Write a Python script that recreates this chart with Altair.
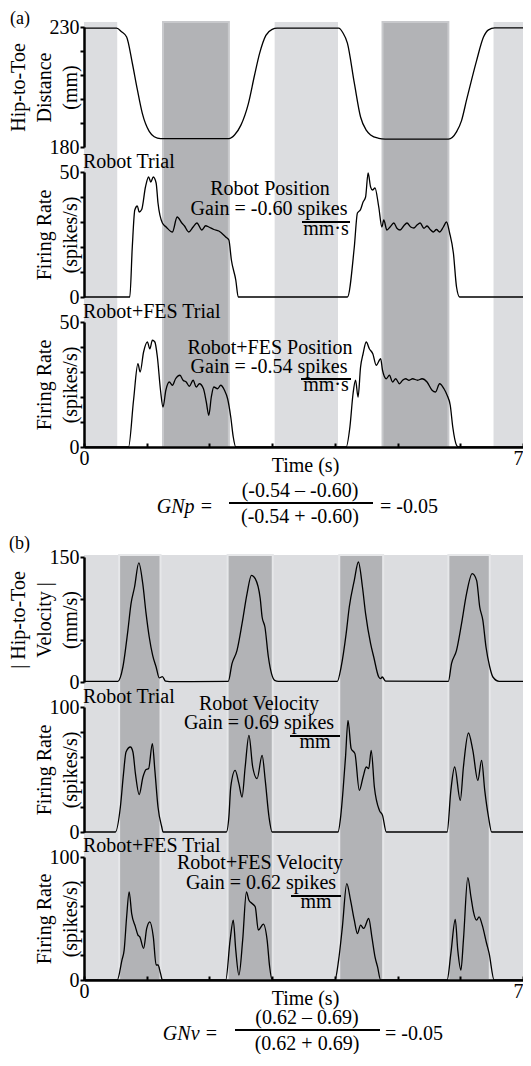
import altair as alt
import pandas as pd

FONT = "Liberation Serif"
TOTAL_W = 515
TOTAL_H = 1046
X_MAX = 7.0
X_PIX = 439          # pixel length of the time axis
LIGHT = "#dcdde0"
DARK = "#b2b3b6"
EDGE_A = "#c8c9cc"
EDGE_B = "#e6e7e9"

# ---------------- data ----------------
# grey bands (time in s)
A_LIGHT_S = [0.0, 3.04, 6.53]
A_LIGHT_E = [0.53, 4.05, 7.0]
A_DARK_S = [1.26, 4.76]
A_DARK_E = [2.31, 5.81]
B_LIGHT_S = [0.0]
B_LIGHT_E = [7.0]
B_DARK_S = [0.56, 2.29, 4.07, 5.81]
B_DARK_E = [1.22, 3.01, 4.77, 6.47]

# (a) hip-to-toe distance (mm)
DIST_T = [0, 0.52, 0.6, 0.68, 0.77, 0.85, 0.93, 1.04, 1.12, 1.22, 2.31, 2.4, 2.5, 2.62,
          2.72, 2.8, 2.9, 3.0, 3.08, 4.06, 4.13, 4.2, 4.31, 4.41, 4.5, 4.57, 4.7, 4.8,
          5.81, 5.94, 6.02, 6.1, 6.18, 6.26, 6.37, 6.45, 6.55, 7.0]
DIST_V = [229.5, 229.5, 228, 225.8, 215, 204, 194, 186.5, 184.3, 183.5, 183.5, 185, 189, 198,
          210, 219, 226.5, 229, 229.5, 229.5, 227.5, 223.3, 206.7, 192.5, 187, 185, 183.6, 183.3,
          183.3, 186.3, 191, 199.6, 208, 216, 225.8, 228.8, 229.6, 229.6]

# (a) robot trial firing rate (spikes/s)
RP_T = [0, 0.73, 0.77, 0.81, 0.85, 0.88, 0.92, 0.98, 1.03, 1.065, 1.105, 1.15, 1.18, 1.25,
        1.31, 1.41, 1.485, 1.56, 1.6, 1.67, 1.74, 1.8, 1.88, 1.94, 1.99, 2.07, 2.15, 2.26,
        2.31, 2.35, 2.42, 2.46, 4.2, 4.31, 4.36, 4.41, 4.45, 4.49, 4.53, 4.57, 4.6, 4.64,
        4.7, 4.75, 4.78, 4.83, 4.88, 4.94, 4.99, 5.04, 5.1, 5.15, 5.21, 5.26, 5.31, 5.36,
        5.42, 5.47, 5.52, 5.57, 5.62, 5.67, 5.73, 5.78, 5.83, 5.89, 5.94, 5.99, 7.0]
RP_V = [0, 0, 20, 34.8, 36.4, 34, 35, 44, 48, 46, 48, 45.6, 37.6, 29.6,
        28, 26, 32, 29.6, 28.5, 26, 28, 29.6, 26.8, 28.5, 28, 27, 26.4, 24,
        22.8, 14.8, 6.8, 0, 0, 20, 33.6, 35, 38, 40, 49.6, 44, 42.8, 43.6,
        36, 28, 30.8, 26.8, 28, 29.6, 27.5, 26.8, 28.5, 29.6, 28, 27.6, 28.8, 29.6,
        27.5, 28.4, 27, 26, 27, 26, 28, 30, 25.6, 17.6, 4, 0, 0]

# (a) robot+FES trial firing rate (spikes/s)
FP_T = [0, 0.71, 0.79, 0.86, 0.895, 0.95, 1.01, 1.05, 1.09, 1.13, 1.17, 1.22, 1.26, 1.305,
        1.36, 1.41, 1.46, 1.53, 1.58, 1.63, 1.68, 1.74, 1.79, 1.84, 1.905, 1.95, 1.99, 2.03,
        2.07, 2.13, 2.18, 2.24, 2.29, 2.34, 2.38, 2.42, 4.18, 4.24, 4.29, 4.33, 4.37, 4.41,
        4.45, 4.5, 4.55, 4.605, 4.66, 4.73, 4.76, 4.82, 4.87, 4.92, 4.97, 5.03, 5.08, 5.13,
        5.18, 5.24, 5.32, 5.39, 5.47, 5.55, 5.605, 5.67, 5.74, 5.79, 5.84, 5.88, 5.94, 5.97, 7.0]
FP_V = [0, 0, 18.7, 33.3, 30, 38, 42, 39.3, 42.7, 42, 36, 22.7, 16, 22.7,
        26, 24.7, 27.3, 28.7, 26.7, 26, 24.3, 26.7, 24, 25.3, 23.3, 18, 12.7, 20,
        24, 23.3, 24.7, 22.7, 19.3, 12, 4, 0, 0, 8, 21.3, 26.7, 20, 32,
        37.3, 42, 39.3, 37.3, 32.7, 35.3, 30.7, 27.3, 28.7, 26, 27.3, 25.3, 26.7, 27.3,
        26.7, 27.3, 26.7, 27.3, 26, 22.7, 22, 25.3, 23.3, 20.7, 16.7, 8, 0.7, 0, 0]

# (b) |hip-to-toe velocity| (mm/s)
VEL_T = [0, 0.54, 0.62, 0.70, 0.75, 0.806, 0.874, 0.937, 0.99, 1.04, 1.095, 1.15, 1.2, 1.25,
         1.3, 1.36, 2.3, 2.36, 2.44, 2.52, 2.6, 2.67, 2.73, 2.81, 2.84, 2.885, 2.94, 2.99,
         3.04, 3.1, 4.04, 4.1, 4.18, 4.23, 4.31, 4.375, 4.44, 4.49, 4.57, 4.62, 4.7, 4.73,
         4.755, 4.81, 5.81, 5.86, 5.94, 6.02, 6.1, 6.19, 6.26, 6.31, 6.36, 6.41, 6.47, 6.52,
         6.62, 7.0]
VEL_V = [0.8, 0.8, 18, 62, 94, 114, 143, 118, 82, 54, 32, 18, 5, 6.5,
         1, 0.5, 0.8, 22, 38, 70, 106, 128, 124, 100, 78, 66, 30, 10,
         2, 0.8, 0.8, 18, 58, 90, 122, 144, 114, 82, 46, 30, 6, 4,
         6, 1, 0.8, 22, 38, 70, 106, 130, 122, 90, 74, 42, 18, 6,
         0.8, 0.8]

# (b) robot trial firing rate (spikes/s)
RV_T = [0, 0.5, 0.58, 0.63, 0.67, 0.74, 0.78, 0.82, 0.88, 0.94, 0.99, 1.03, 1.09, 1.13,
        1.18, 1.24, 1.26, 2.27, 2.31, 2.34, 2.41, 2.47, 2.52, 2.57, 2.63, 2.69, 2.76, 2.84,
        2.89, 2.95, 3.0, 4.05, 4.095, 4.13, 4.17, 4.21, 4.26, 4.32, 4.39, 4.45, 4.5, 4.54,
        4.58, 4.63, 4.71, 4.76, 4.82, 5.79, 5.85, 5.91, 6.0, 6.05, 6.13, 6.2, 6.28, 6.34,
        6.39, 6.45, 6.5, 7.0]
RV_V = [0, 0, 20, 46.7, 64, 68, 64, 46.7, 30, 44, 50, 50.7, 70.7, 49.3,
        20, 4, 0, 0, 12, 36, 49.3, 38.7, 28, 52, 77.3, 52, 42.7, 61.3,
        41.3, 12, 0, 0, 13.3, 33, 60, 89.3, 66.7, 62.7, 33.3, 44, 52, 50.7,
        65.3, 36, 17.3, 13.3, 0, 0, 33.3, 52, 25.3, 52, 79.2, 65.3, 41.3, 57.3,
        33.3, 12, 0, 0]

# (b) robot+FES trial firing rate (spikes/s)
FV_T = [0, 0.53, 0.605, 0.64, 0.68, 0.72, 0.76, 0.82, 0.86, 0.89, 0.95, 1.0, 1.05, 1.105,
        1.15, 1.18, 1.22, 1.25, 2.26, 2.33, 2.38, 2.42, 2.47, 2.53, 2.59, 2.63, 2.68, 2.73,
        2.78, 2.86, 2.92, 2.96, 3.0, 4.0, 4.06, 4.12, 4.19, 4.25, 4.31, 4.36, 4.41, 4.46,
        4.54, 4.59, 4.64, 4.68, 4.73, 5.79, 5.85, 5.92, 5.96, 6.01, 6.05, 6.12, 6.17, 6.21,
        6.26, 6.3, 6.35, 6.42, 6.46, 6.54, 7.0]
FV_V = [0, 0, 16.2, 24.3, 51.4, 71.6, 54, 43.2, 36.5, 35.1, 25.7, 41.9, 47.3, 35.1,
        12.2, 12.2, 5.4, 0, 0, 32.4, 48.6, 24.3, 4, 32.4, 71.6, 64.9, 62.2, 59.5,
        40.5, 45.4, 32.4, 10.8, 0, 0, 16.2, 43.2, 78.4, 64.9, 48.6, 37.8, 44.6, 41.9,
        50, 35.1, 18.9, 10.8, 0, 0, 21.6, 49.2, 24.3, 8.1, 32.4, 83.2, 67.6, 55.4,
        48.6, 51.4, 44.6, 29.7, 21.6, 0, 0]

X_TICKS = [0, 1, 2, 3, 4, 5, 6, 7]
X_LABELS = [0, 7]

for a, b in [(DIST_T, DIST_V), (RP_T, RP_V), (FP_T, FP_V), (VEL_T, VEL_V), (RV_T, RV_V), (FV_T, FV_V)]:
    assert len(a) == len(b), (len(a), len(b))

# ---------------- layout (pixels from the plot origin) ----------------
P_A1 = (19, 139)
P_A2 = (164, 289)
P_A3 = (314, 439)
P_B1 = (549, 674)
P_B2 = (699, 824)
P_B3 = (849, 972)

ONE = [{"k": 1}]


def label_expr(vals):
    cond = " || ".join(f"datum.value == {v}" for v in vals)
    return f"({cond}) ? datum.label : ''"


def xscale():
    return alt.Scale(domain=[0, X_MAX], range=[0, X_PIX], nice=False, zero=False)


def time_axis(strip):
    # axis line drawn at the bottom edge of the strip
    return alt.Axis(orient="top", offset=-strip[1],
                    values=X_TICKS, labelExpr=label_expr(X_LABELS), title="Time (s)",
                    titleX=221, titleY=24, titleAlign="center", titleBaseline="alphabetic",
                    titleFont=FONT, titleFontSize=20, titleFontWeight="normal", titleColor="black",
                    labelFont=FONT, labelFontSize=20, labelColor="black", labelBaseline="alphabetic",
                    labelAlign={"condition": {"test": "datum.value == 7", "value": "right"}, "value": "center"},
                    labelPadding=-21, labelFlush=False, labelOverlap=False,
                    tickSize=4, tickWidth=2, tickColor="black",
                    domainColor="black", domainWidth=2.5, grid=False, zindex=2)


def bands(starts, ends, color, top, bottom, stroke=None):
    df = pd.DataFrame({"s": starts, "e": ends})
    kw = dict(fill=color)
    if stroke:
        kw.update(stroke=stroke, strokeWidth=2)
    return alt.Chart(df).mark_rect(**kw).encode(
        x=alt.X("s:Q", scale=xscale(), axis=None), x2="e:Q",
        y=alt.value(top), y2=alt.value(bottom))


def text(txt, x, y, align="center", size=20, style="normal"):
    return alt.Chart(alt.Data(values=ONE)).mark_text(
        text=txt, font=FONT, fontSize=size, align=align, baseline="alphabetic",
        color="black", fontStyle=style).encode(x=alt.value(x), y=alt.value(y))


def bar(x1, x2, y, width=2):
    return alt.Chart(alt.Data(values=ONE)).mark_rule(color="black", strokeWidth=width).encode(
        x=alt.value(x1), x2=alt.value(x2), y=alt.value(y))


def trace(T, V, lo, hi, strip, yticks, ylabels, title, title_x, with_x_axis):
    top, bot = strip
    yaxis = alt.Axis(orient="left", values=yticks, labelExpr=label_expr(ylabels),
                     title=title, titleX=title_x, titleY=(top + bot) / 2, titleAngle=270,
                     titleAlign="center", titleBaseline="alphabetic", titleLineHeight=26,
                     titleFont=FONT, titleFontSize=20, titleFontWeight="normal", titleColor="black",
                     labelFont=FONT, labelFontSize=20, labelColor="black", labelPadding=1,
                     labelFlush=False, labelOverlap=False,
                     tickSize=4, tickWidth=2, tickColor="black",
                     domainColor="black", domainWidth=2.5, grid=False, zindex=2)
    xaxis = time_axis(strip) if with_x_axis else None
    df = pd.DataFrame({"t": T, "v": V})
    return alt.Chart(df).mark_line(color="black", strokeWidth=1.3, interpolate="monotone").encode(
        x=alt.X("t:Q", scale=xscale(), axis=xaxis),
        y=alt.Y("v:Q", scale=alt.Scale(domain=[lo, hi], range=[bot, top], nice=False, zero=False),
                axis=yaxis))


layers = [
    bands(A_LIGHT_S, A_LIGHT_E, LIGHT, 14, P_A3[1]),
    bands(A_DARK_S, A_DARK_E, DARK, 14, P_A3[1], stroke=EDGE_A),
    bands(B_LIGHT_S, B_LIGHT_E, LIGHT, 547, P_B3[1]),
    bands(B_DARK_S, B_DARK_E, DARK, 547, P_B3[1], stroke=EDGE_B),

    trace(DIST_T, DIST_V, 180, 230, P_A1, [180, 190, 200, 210, 220, 230], [180, 230],
          ["Hip-to-Toe", "Distance", "(mm)"], -60, False),
    trace(RP_T, RP_V, 0, 50, P_A2, [0, 10, 20, 30, 40, 50], [0, 50],
          ["Firing Rate", "(spikes/s)"], -34, False),
    trace(FP_T, FP_V, 0, 50, P_A3, [0, 10, 20, 30, 40, 50], [0, 50],
          ["Firing Rate", "(spikes/s)"], -34, True),
    trace(VEL_T, VEL_V, 0, 150, P_B1, [0, 50, 100, 150], [0, 150],
          ["| Hip-to-Toe", "Velocity |", "(mm/s)"], -60, False),
    trace(RV_T, RV_V, 0, 100, P_B2, [0, 20, 40, 60, 80, 100], [0, 100],
          ["Firing Rate", "(spikes/s)"], -34, False),
    trace(FV_T, FV_V, 0, 100, P_B3, [0, 20, 40, 60, 80, 100], [0, 100],
          ["Firing Rate", "(spikes/s)"], -34, True),
]

layers += [
    text("(a)", -74, 16, align="left", size=18),
    # (a) robot trial
    text("Robot Trial", -1, 160, align="left"),
    text("Robot Position", 186, 187),
    text("Gain = -0.60 spikes", 185, 207),
    bar(218, 266, 214),
    text("mm·s", 242, 227),
    # (a) robot+FES trial
    text("Robot+FES Trial", -1, 310, align="left"),
    text("Robot+FES Position", 186, 346),
    text("Gain = -0.54 spikes", 185, 365),
    bar(217, 267, 371),
    text("mm·s", 242, 383),
    # GNp formula
    text("GNp =", 129, 505, align="right", style="italic"),
    text("(-0.54 – -0.60)", 216, 489),
    bar(145, 289, 495),
    text("(-0.54 + -0.60)", 216, 515),
    text("= -0.05", 296, 505, align="left"),

    text("(b)", -75, 541, align="left", size=18),
    # (b) robot trial
    text("Robot Trial", -1, 695, align="left"),
    text("Robot Velocity", 175, 701.5),
    text("Gain = 0.69 spikes", 175, 721),
    bar(206, 256, 728),
    text("mm", 231, 740),
    # (b) robot+FES trial
    text("Robot+FES Trial", -1, 844, align="left"),
    text("Robot+FES Velocity", 176, 861),
    text("Gain = 0.62 spikes", 177, 881),
    bar(207, 257, 888),
    text("mm", 232, 900),
    # GNv formula
    text("GNv =", 134, 1032, align="right", style="italic"),
    text("(0.62 – 0.69)", 223, 1016),
    bar(151, 296, 1022),
    text("(0.62 + 0.69)", 223, 1042),
    text("= -0.05", 301, 1032, align="left"),
]

chart = alt.layer(*layers).resolve_scale(x="independent", y="independent").properties(
    width=TOTAL_W, height=TOTAL_H,
    autosize=alt.AutoSizeParams(type="fit", contains="padding"),
    padding={"left": 0, "top": 0, "right": 0, "bottom": 0},
).configure_view(stroke="transparent")

chart.save("out.html", embed_options={"renderer": "svg", "actions": False})
